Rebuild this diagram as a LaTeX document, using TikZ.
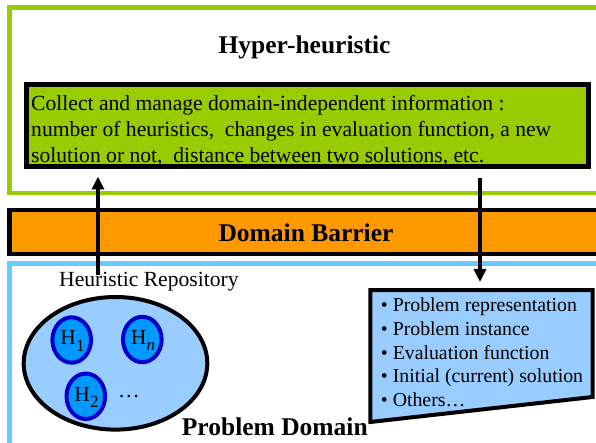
\documentclass[tikz,border=0pt]{standalone}
\usepackage{fontspec}
\setmainfont{Liberation Serif}
\usetikzlibrary{arrows.meta}
\definecolor{hhgreen}{HTML}{99CC00}
\definecolor{barorange}{HTML}{FF9900}
\definecolor{pdblue}{HTML}{66CCFF}
\definecolor{lightfill}{HTML}{99CCFF}
\definecolor{hfill}{HTML}{0099FF}
\definecolor{hborder}{HTML}{0000CC}
\begin{document}
\begin{tikzpicture}[x=1pt,y=-1pt,
  bigtitle/.style={font=\fontsize{25.5}{30}\selectfont\bfseries, inner sep=0pt},
  bodytext/.style={font=\fontsize{21.6}{26}\selectfont, inner sep=0pt, anchor=base west},
  listtext/.style={font=\fontsize{19.8}{23.6}\selectfont, inner sep=0pt, anchor=base west},
  hlabel/.style={font=\fontsize{21.5}{24}\selectfont, inner sep=0pt},
  hcircle/.style={draw=hborder, fill=hfill, line width=4pt},
  flowarrow/.style={line width=3.5pt, -{Triangle[length=13pt,width=12pt]}}
]
\useasboundingbox (0,0) rectangle (596,443);
\clip (0,0) rectangle (596,443);
\fill[white] (0,0) rectangle (596,443);

% Hyper-heuristic layer
\draw[hhgreen, line width=4.5pt] (9.5,7.5) rectangle (640,193);
\node[bigtitle, anchor=base] (hh) at (304.5,53.3) {Hyper-heuristic};
\draw[black, fill=hhgreen, line width=5pt] (26.7,85) rectangle (588,166.5);
\node[bodytext] (l1) at (31,111) {Collect and manage domain-independent information :};
\node[bodytext] (l2) at (31,137) {number of heuristics,\ \ changes in evaluation function, a new};
\node[bodytext] (l3) at (31,163) {solution or not,\ \ distance between two solutions, etc.};

% Domain barrier
\draw[black, fill=barorange, line width=4.5pt] (9.5,210) rectangle (640,254);
\node[bigtitle, anchor=base] (db) at (306,241.5) {Domain Barrier};

% Problem domain layer
\draw[pdblue, line width=4.5pt] (9.5,263.5) rectangle (640,480);
\node[bodytext] (hr) at (59,286.7) {Heuristic Repository};
\draw[black, fill=lightfill, line width=4pt] (115.5,363.3) ellipse [x radius=91.8, y radius=66.3];
\draw[hcircle] (71.7,340) ellipse [x radius=19.3, y radius=22.7];
\draw[hcircle] (142.3,339.5) ellipse [x radius=19.3, y radius=22.7];
\draw[hcircle] (85.8,396.3) ellipse [x radius=19.3, y radius=22.7];
\node[hlabel] (h1) at (72.5,341) {H\raisebox{-0.3em}{\fontsize{17}{17}\selectfont 1}};
\node[hlabel] (hn) at (143,340.5) {H\raisebox{-0.3em}{\fontsize{17}{17}\selectfont\itshape n}};
\node[hlabel] (h2) at (86.5,397.3) {H\raisebox{-0.3em}{\fontsize{17}{17}\selectfont 2}};
\node[font=\fontsize{21.6}{26}\selectfont, inner sep=0pt, anchor=base] (dots) at (129,397) {…};

\draw[black, fill=lightfill, line width=4pt, line join=miter]
  (370.3,290) -- (592.5,290) -- (592.5,397) -- (370.3,422) -- cycle;
\node[listtext] (b1) at (380.7,311.7) {• Problem representation};
\node[listtext] (b2) at (380.7,335.4) {• Problem instance};
\node[listtext] (b3) at (380.7,359.1) {• Evaluation function};
\node[listtext] (b4) at (380.7,382.8) {• Initial (current) solution};
\node[listtext] (b5) at (380.7,406.5) {• Others…};

\node[bigtitle, anchor=base west] (pd) at (181.7,435) {Problem Domain};

% arrows
\coordinate (upstart) at (98,275);
\coordinate (upend) at (98,176.5);
\coordinate (downstart) at (480,178);
\coordinate (downend) at (480,282);
\draw[flowarrow] (upstart) -- (upend);
\draw[flowarrow] (downstart) -- (downend);
\end{tikzpicture}
\end{document}
